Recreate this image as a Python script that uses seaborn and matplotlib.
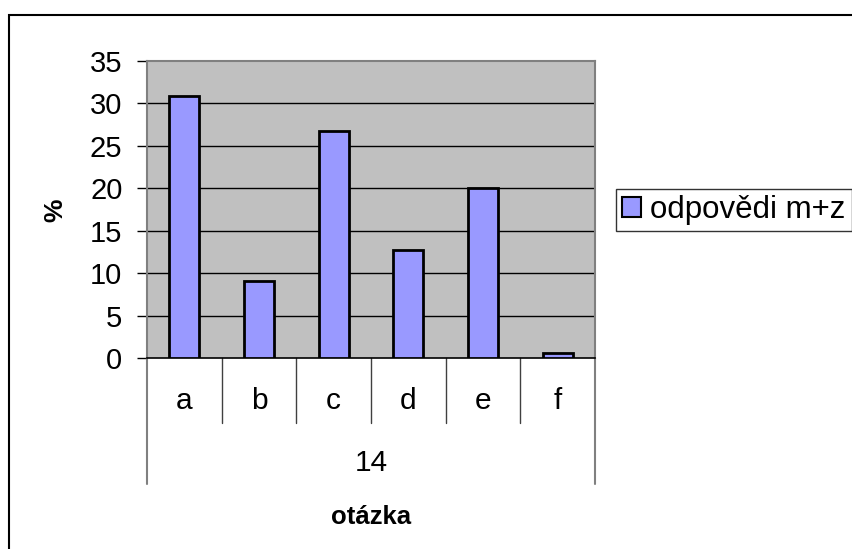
import matplotlib
matplotlib.use("Agg")
import matplotlib.pyplot as plt
import matplotlib.transforms as mtransforms
from matplotlib.patches import Patch, Rectangle
from matplotlib.lines import Line2D
import seaborn as sns
import pandas as pd

categories = ["a", "b", "c", "d", "e", "f"]
values = [30.9, 9.1, 26.7, 12.7, 20.0, 0.6]
group_label = "14"
series_name = "odpovědi m+z"
y_ticks = [0, 5, 10, 15, 20, 25, 30, 35]

sns.set_theme(style="white")
plt.rcParams["font.family"] = ["Liberation Sans", "DejaVu Sans"]
for k in ["text.color", "axes.labelcolor", "xtick.color", "ytick.color",
          "xtick.labelcolor", "ytick.labelcolor"]:
    plt.rcParams[k] = "black"

W, H = 853, 549
fig = plt.figure(figsize=(W / 100, H / 100), dpi=100)
fig.patch.set_facecolor("white")

L, R, T, B = 147, 595, 61, 358
ax = fig.add_axes([L / W, 1 - B / H, (R - L) / W, (B - T) / H])
ax.set_facecolor("#C0C0C0")

df = pd.DataFrame({"q": categories, "v": values})
sns.barplot(data=df, x="q", y="v", color="#9999FF", saturation=1,
            edgecolor="black", linewidth=2, width=0.4, ax=ax, zorder=3)

ax.set_xlim(-0.5, len(categories) - 0.5)
ax.set_ylim(0, 35)
ax.set_yticks(y_ticks)
ax.set_yticklabels([str(t) for t in y_ticks], fontsize=21, color="black")
ax.tick_params(axis="y", length=7.2, width=1, color="black", pad=10.5,
               left=True, direction="out", labelcolor="black")
for t in y_ticks[1:-1]:
    ax.axhline(t, color="black", lw=1, zorder=1)

ax.set_xticks(range(len(categories)))
ax.set_xticklabels(categories, fontsize=21.5, color="black")
ax.tick_params(axis="x", length=0, pad=21, labelcolor="black")

for s in ["left", "right", "top"]:
    ax.spines[s].set_color("#808080")
    ax.spines[s].set_linewidth(1.5)
ax.spines["bottom"].set_color("black")
ax.spines["bottom"].set_linewidth(1.2)

blend = mtransforms.blended_transform_factory(ax.transData, ax.transAxes)
ph = B - T
inner_bot = -(423 - B) / ph
outer_bot = -(484 - B) / ph
for i in range(len(categories) - 1):
    ax.add_line(Line2D([i + 0.5, i + 0.5], [0, inner_bot], transform=blend,
                       color="#404040", lw=1, clip_on=False))
for xx in [-0.5, len(categories) - 0.5]:
    ax.add_line(Line2D([xx, xx], [0, outer_bot], transform=blend,
                       color="#808080", lw=1.5, clip_on=False))

ax.text((len(categories) - 1) / 2, -(463 - B) / ph, group_label, transform=blend,
        ha="center", va="center", fontsize=21.5, color="black")

ax.set_xlabel("otázka", fontsize=18.5, fontweight="bold", color="black")
ax.xaxis.set_label_coords(0.5, -(517 - B) / ph)
ax.xaxis.label.set_va("center")
ax.set_ylabel("%", fontsize=19, fontweight="bold", color="black")
ax.yaxis.set_label_coords((55 - L) / (R - L), (B - 210) / ph)
ax.yaxis.label.set_va("center")

handle = Patch(facecolor="#9999FF", edgecolor="black", linewidth=1.5)
leg = fig.legend([handle], [series_name], loc="center left",
                 bbox_to_anchor=(616 / W, 1 - 210 / H), fontsize=22.5,
                 frameon=True, fancybox=False, shadow=False,
                 handlelength=0.6, handleheight=0.6, handletextpad=0.3,
                 borderpad=0.2, borderaxespad=0, labelcolor="black")
leg.get_frame().set_edgecolor("black")
leg.get_frame().set_linewidth(1)

fig.patches.append(Rectangle((9 / W, -0.1), 1.2, 1 - 15 / H + 0.1,
                             transform=fig.transFigure, fill=False,
                             edgecolor="black", lw=1.5, zorder=0))

fig.savefig("out.png", dpi=100)
